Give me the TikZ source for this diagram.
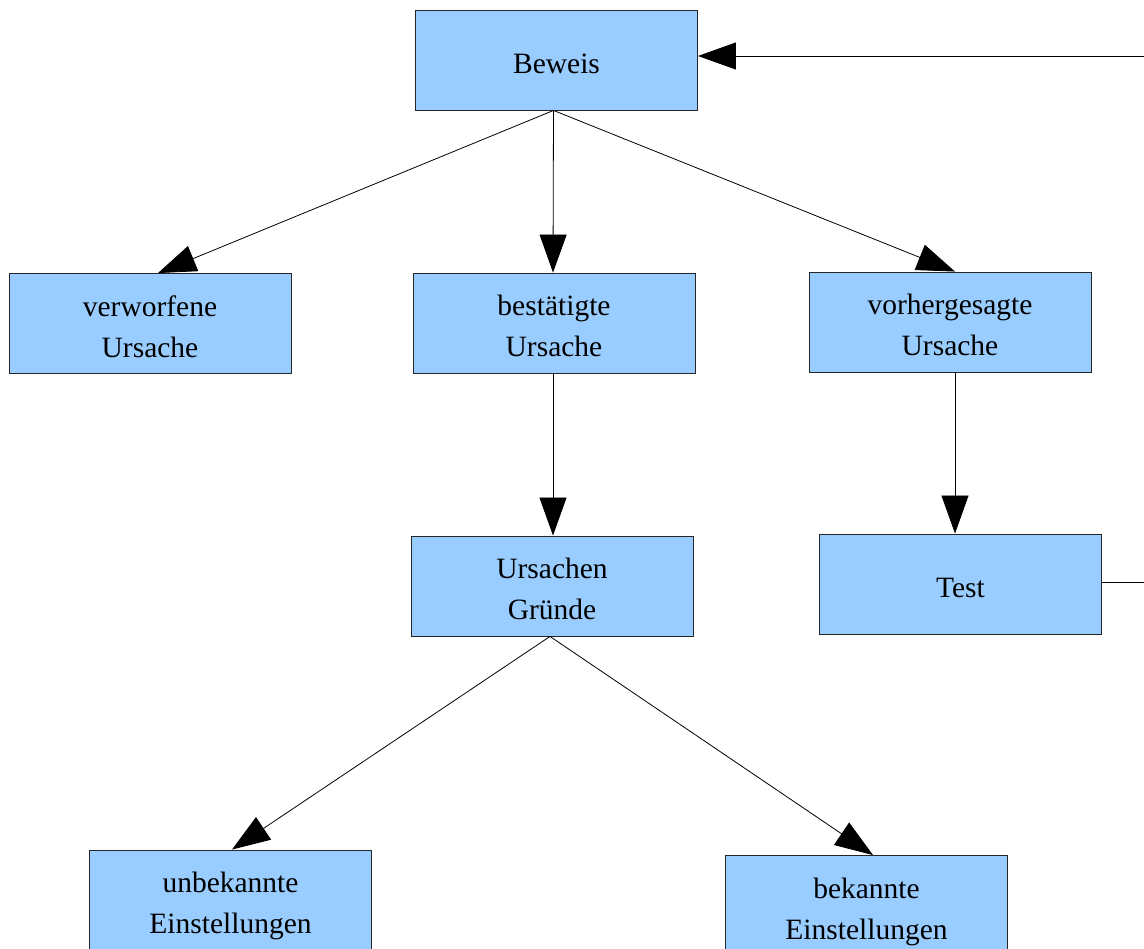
\documentclass[tikz,border=0pt]{standalone}
\usepackage{fontspec}
\setmainfont{Liberation Serif}
\usetikzlibrary{arrows.meta}

\definecolor{kastenblau}{HTML}{99CCFF}
% Text im Kasten etwas tiefer setzen
\newcommand{\kastentext}[1]{\raisebox{-11.2pt}[0pt][0pt]{\begin{tabular}{@{}c@{}}#1\end{tabular}}}

\begin{document}
\begin{tikzpicture}[x = 1pt,y = -1pt,
    kasten/.style = {draw = black!85,line width = 0.9pt,fill = kastenblau,minimum width = 282pt,minimum height = 100pt,inner sep = 0pt,font = \fontsize{29.5}{41}\selectfont},
    pfeil/.style = {-{Triangle[length = 38pt,width = 27pt]},line width = 0.8pt}]
    \useasboundingbox (0,0) rectangle (1144,949);

    \node[kasten](beweis) at (556.5,60) {\kastentext{Beweis}};
    \node[kasten](verworfen) at (150,323.5) {\kastentext{verworfene\\Ursache}};
    \node[kasten](bestaetigt) at (554,323) {\kastentext{bestätigte\\Ursache}};
    \node[kasten](vorhergesagt) at (950,322) {\kastentext{vorhergesagte\\Ursache}};
    \node[kasten](gruende) at (552,586) {\kastentext{Ursachen\\Gründe}};
    \node[kasten](test) at (960.5,584) {\kastentext{Test}};
    \node[kasten](unbekannt) at (230.5,900) {\kastentext{unbekannte\\Einstellungen}};
    \node[kasten](bekannt) at (866.5,905.5) {\kastentext{bekannte\\Einstellungen}};

    \coordinate (rueckOben) at (1144,56);
    \coordinate (rueckUnten) at (1144,582);

    \draw [pfeil] ([xshift = -3pt]beweis.south) -- ([xshift = 8pt]verworfen.north);
    \draw [pfeil] ([xshift = -3pt]beweis.south) -- ([xshift = -1pt]bestaetigt.north);
    \draw [pfeil] ([xshift = -3pt]beweis.south) -- ([xshift = 5pt]vorhergesagt.north);
    \draw [pfeil] ([xshift = -1pt]bestaetigt.south) -- ([xshift = 1pt]gruende.north);
    \draw [pfeil] ([xshift = 5pt]vorhergesagt.south) -- ([xshift = -5.5pt]test.north);
    \draw [pfeil] ([xshift = -2pt]gruende.south) -- ([xshift = 1.5pt]unbekannt.north);
    \draw [pfeil] ([xshift = -2pt]gruende.south) -- ([xshift = 6.5pt]bekannt.north);

    \draw [line width = 0.8pt] ([yshift = 2pt]test.east) -- (rueckUnten);
    \draw [pfeil] (rueckOben) -- ([yshift = 4pt]beweis.east);
\end{tikzpicture}
\end{document}
